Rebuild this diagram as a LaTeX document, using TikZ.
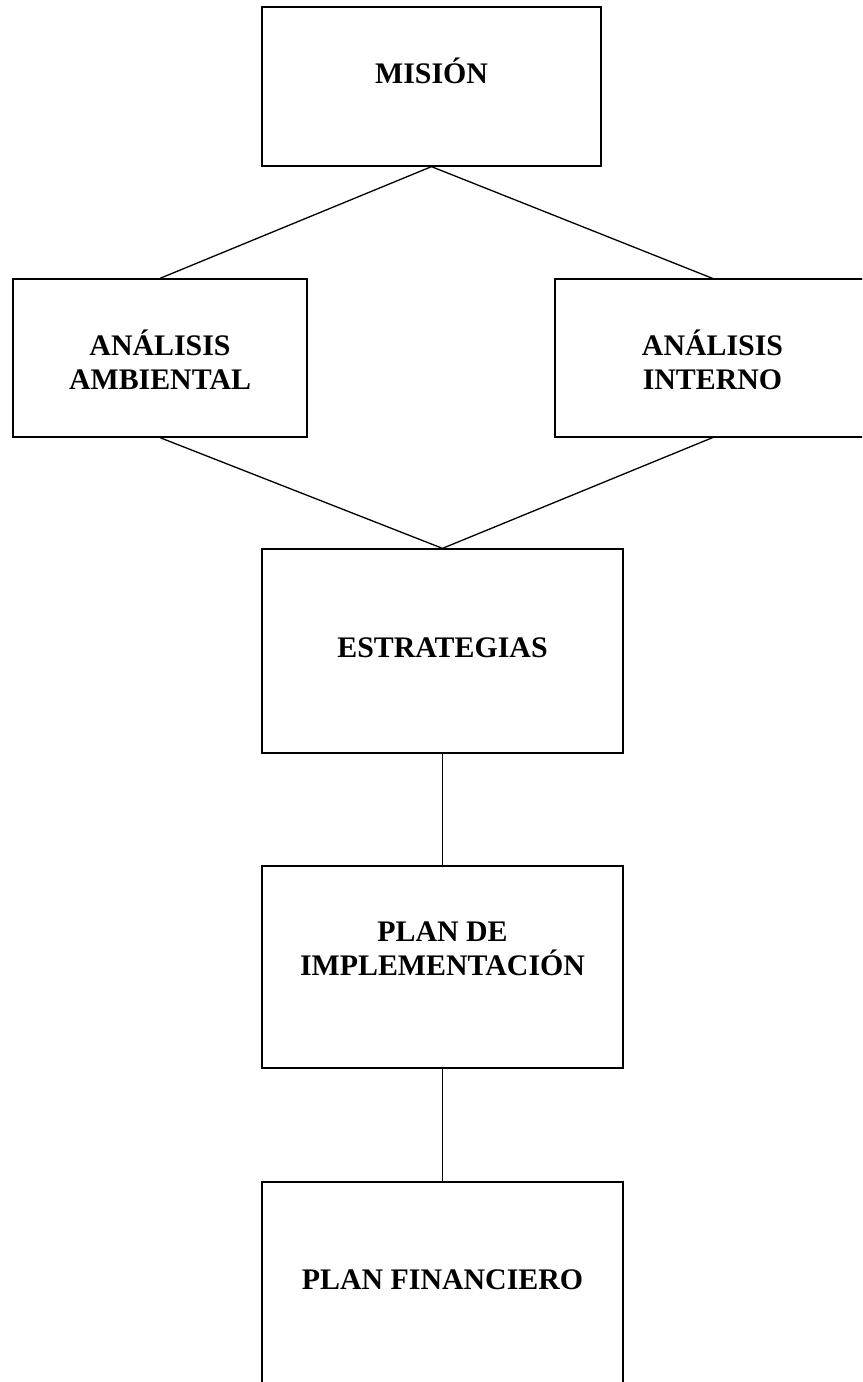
\documentclass[tikz,border=0pt]{standalone}
\usepackage{fontspec}
\setmainfont{Liberation Serif}
\begin{document}
\begin{tikzpicture}[x=0.02cm,y=-0.02cm,
  caja/.style={draw,line width=0.75pt,inner sep=0pt},
  rotulo/.style={font=\fontsize{17}{19.5}\selectfont\bfseries,align=center,inner sep=0pt},
  enlace/.style={line width=0.75pt}]
\clip (0,0) rectangle (862,1382);

% cajas
\node[caja,minimum width=6.78cm,minimum height=3.18cm] (mision) at (431.5,86.5) {};
\node[caja,minimum width=5.88cm,minimum height=3.16cm] (ambiental) at (160,358) {};
\node[caja,minimum width=6.30cm,minimum height=3.16cm] (interno) at (712.5,358) {};
\node[caja,minimum width=7.22cm,minimum height=4.08cm] (estrategias) at (442.5,651) {};
\node[caja,minimum width=7.22cm,minimum height=4.04cm] (implementacion) at (442.5,967) {};
\node[caja,minimum width=7.22cm,minimum height=4.08cm] (financiero) at (442.5,1284) {};

% textos
\node[rotulo] (misionT) at ([yshift=0.31cm]mision.center) {MISIÓN};
\node[rotulo] (ambientalT) at ([yshift=-0.04cm]ambiental.center) {ANÁLISIS\\AMBIENTAL};
\node[rotulo] (internoT) at ([yshift=-0.04cm]interno.center) {ANÁLISIS\\INTERNO};
\node[rotulo] (estrategiasT) at ([yshift=0.06cm]estrategias.center) {ESTRATEGIAS};
\node[rotulo] (implementacionT) at ([yshift=0.37cm]implementacion.center) {PLAN DE\\IMPLEMENTACIÓN};
\node[rotulo] (financieroT) at ([yshift=0.08cm]financiero.center) {PLAN FINANCIERO};

% enlaces
\draw[enlace] (ambiental.north) -- (mision.south) -- (interno.north);
\draw[enlace] (ambiental.south) -- (estrategias.north) -- (interno.south);
\draw[enlace] (estrategias.south) -- (implementacion.north);
\draw[enlace] (implementacion.south) -- (financiero.north);
\end{tikzpicture}
\end{document}
